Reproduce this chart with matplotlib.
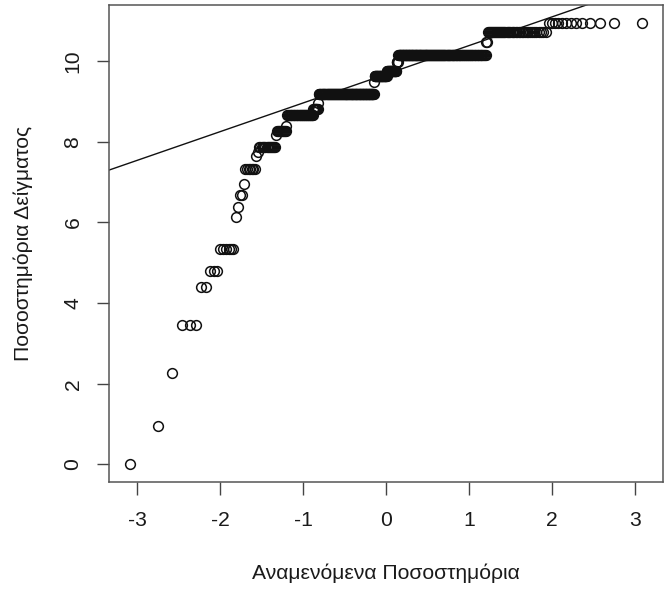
import numpy as np
import matplotlib.pyplot as plt
from statistics import NormalDist

plt.rcParams['font.family'] = ['Liberation Sans', 'DejaVu Sans']

# sample values (sorted levels) and how many times each one occurs
levels = [0.0, 0.95, 2.27, 3.46, 4.40, 4.80, 5.35, 6.14, 6.39, 6.67,
          6.94, 7.33, 7.64, 7.74, 7.86, 8.16, 8.26, 8.40, 8.66, 8.80,
          8.96, 9.19, 9.48, 9.63, 9.75, 9.98, 10.15, 10.47, 10.72, 10.95]
counts = [1, 1, 1, 3, 2, 3, 6, 1, 1, 2,
          1, 7, 1, 1, 15, 1, 10, 1, 37, 8,
          1, 117, 1, 30, 23, 4, 164, 2, 42, 13]

xticks = [-3, -2, -1, 0, 1, 2, 3]
yticks = [0, 2, 4, 6, 8, 10]
xlabel = 'Αναμενόμενα Ποσοστημόρια'
ylabel = 'Ποσοστημόρια Δείγματος'

sample = np.repeat(levels, counts)
n = len(sample)
# theoretical quantiles like R's qqnorm (ppoints)
a = 3 / 8 if n <= 10 else 0.5
nd = NormalDist()
theo = np.array([nd.inv_cdf((i - a) / (n + 1 - 2 * a)) for i in range(1, n + 1)])

# qqline through the quartiles
q_y = np.quantile(sample, [0.25, 0.75])
q_x = np.array([nd.inv_cdf(0.25), nd.inv_cdf(0.75)])
slope = (q_y[1] - q_y[0]) / (q_x[1] - q_x[0])
inter = q_y[0] - slope * q_x[0]

fig = plt.figure(figsize=(6.71, 5.90), dpi=100)
ax = fig.add_axes([109 / 671, 1 - 482 / 590, 554 / 671, 477 / 590])

ax.plot(theo, sample, linestyle='none', marker='o', markersize=7.0,
        markerfacecolor='none', markeredgecolor='#111111', markeredgewidth=1.1)

xr = theo.max() - theo.min()
yr = sample.max() - sample.min()
xlim = (theo.min() - 0.04 * xr, theo.max() + 0.04 * xr)
ylim = (sample.min() - 0.04 * yr, sample.max() + 0.04 * yr)
xx = np.array(xlim)
ax.plot(xx, inter + slope * xx, color='#111111', linewidth=1.0)
ax.set_xlim(xlim)
ax.set_ylim(ylim)

ax.set_xticks(xticks)
ax.set_yticks(yticks)
ax.set_xticklabels([str(t) for t in xticks])
ax.set_yticklabels([str(t) for t in yticks], rotation=90, va='center')
ax.tick_params(axis='both', length=9, width=1.0, color='#444444',
               labelsize=15.2, labelcolor='#1a1a1a')
ax.tick_params(axis='x', pad=12)
ax.tick_params(axis='y', pad=10)
for s in ax.spines.values():
    s.set_color('#555555')
    s.set_linewidth(1.1)

ax.set_xlabel(xlabel, fontsize=15.2, color='#1a1a1a')
ax.set_ylabel(ylabel, fontsize=15.2, color='#1a1a1a')
ax.xaxis.label.set_va('center')
ax.yaxis.label.set_va('center')
ax.xaxis.set_label_coords(0.5, (482 - 573) / 477)
ax.yaxis.set_label_coords((23 - 109) / 554, 0.5)

fig.savefig('out.png', dpi=100, facecolor='white')
